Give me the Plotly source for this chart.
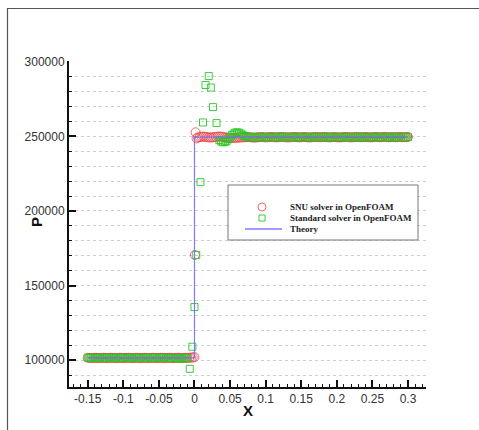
import plotly.graph_objects as go

# ---------------- data ----------------
theory_x = [-0.15, 0.0, 0.0, 0.3]
theory_p = [101500, 101500, 249500, 249500]

# SNU solver in OpenFOAM (red circles)
snu_x = [-0.1500, -0.1475, -0.1450, -0.1425, -0.1400, -0.1375, -0.1350, -0.1325, -0.1300, -0.1275,
         -0.1250, -0.1225, -0.1200, -0.1175, -0.1150, -0.1125, -0.1100, -0.1075, -0.1050, -0.1025,
         -0.1000, -0.0975, -0.0950, -0.0925, -0.0900, -0.0875, -0.0850, -0.0825, -0.0800, -0.0775,
         -0.0750, -0.0725, -0.0700, -0.0675, -0.0650, -0.0625, -0.0600, -0.0575, -0.0550, -0.0525,
         -0.0500, -0.0475, -0.0450, -0.0425, -0.0400, -0.0375, -0.0350, -0.0325, -0.0300, -0.0275,
         -0.0250, -0.0225, -0.0200, -0.0175, -0.0150, -0.0125, -0.0100, -0.0075, -0.0050, -0.0025,
         0.0000, 0.0006, 0.0016, 0.0030,
         0.0050, 0.0075, 0.0100, 0.0125, 0.0150, 0.0175, 0.0200, 0.0225, 0.0250, 0.0275,
         0.0300, 0.0325, 0.0350, 0.0375, 0.0400, 0.0425, 0.0450, 0.0475, 0.0500, 0.0525,
         0.0550, 0.0575, 0.0600, 0.0625, 0.0650, 0.0675, 0.0700, 0.0725, 0.0750, 0.0775,
         0.0800, 0.0825, 0.0850, 0.0875, 0.0900, 0.0925, 0.0950, 0.0975, 0.1000, 0.1025,
         0.1050, 0.1075, 0.1100, 0.1125, 0.1150, 0.1175, 0.1200, 0.1225, 0.1250, 0.1275,
         0.1300, 0.1325, 0.1350, 0.1375, 0.1400, 0.1425, 0.1450, 0.1475, 0.1500, 0.1525,
         0.1550, 0.1575, 0.1600, 0.1625, 0.1650, 0.1675, 0.1700, 0.1725, 0.1750, 0.1775,
         0.1800, 0.1825, 0.1850, 0.1875, 0.1900, 0.1925, 0.1950, 0.1975, 0.2000, 0.2025,
         0.2050, 0.2075, 0.2100, 0.2125, 0.2150, 0.2175, 0.2200, 0.2225, 0.2250, 0.2275,
         0.2300, 0.2325, 0.2350, 0.2375, 0.2400, 0.2425, 0.2450, 0.2475, 0.2500, 0.2525,
         0.2550, 0.2575, 0.2600, 0.2625, 0.2650, 0.2675, 0.2700, 0.2725, 0.2750, 0.2775,
         0.2800, 0.2825, 0.2850, 0.2875, 0.2900, 0.2925, 0.2950, 0.2975, 0.3000]
snu_p = [101600, 101500, 101400, 101500, 101600, 101500, 101400, 101500, 101500, 101600,
         101500, 101400, 101500, 101600, 101500, 101500, 101400, 101500, 101600, 101500,
         101400, 101500, 101500, 101600, 101500, 101400, 101500, 101600, 101500, 101500,
         101400, 101500, 101600, 101500, 101400, 101500, 101500, 101600, 101500, 101400,
         101500, 101600, 101500, 101500, 101400, 101500, 101600, 101500, 101400, 101500,
         101500, 101600, 101500, 101400, 101500, 101600, 101500, 101600, 101700, 101800,
         102000, 170500, 252700, 248600,
         249300, 249500, 249700, 249800, 249700, 249500, 249300, 249200, 249300, 249500,
         249600, 249800, 249900, 249800, 249600, 249400, 249200, 249000, 248900, 248900,
         249000, 249000, 249100, 249200, 249300, 249300, 249400, 249400, 249500, 249400,
         249300, 249200, 249200, 249300, 249400, 249500, 249500, 249400, 249300, 249400,
         249500, 249600, 249500, 249400, 249300, 249400, 249500, 249600, 249500, 249400,
         249300, 249300, 249400, 249500, 249600, 249500, 249400, 249300, 249400, 249500,
         249500, 249400, 249300, 249300, 249400, 249500, 249600, 249500, 249400, 249400,
         249500, 249600, 249500, 249400, 249300, 249400, 249500, 249500, 249400, 249300,
         249300, 249400, 249500, 249600, 249500, 249400, 249300, 249400, 249500, 249600,
         249500, 249400, 249400, 249500, 249600, 249500, 249400, 249300, 249400, 249500,
         249600, 249500, 249400, 249400, 249500, 249600, 249500, 249400, 249400, 249500,
         249500, 249400, 249500, 249600, 249500, 249400, 249500, 249500, 249600]

# Standard solver in OpenFOAM (green squares)
std_x = [-0.1500, -0.1475, -0.1450, -0.1425, -0.1400, -0.1375, -0.1350, -0.1325, -0.1300, -0.1275,
         -0.1250, -0.1225, -0.1200, -0.1175, -0.1150, -0.1125, -0.1100, -0.1075, -0.1050, -0.1025,
         -0.1000, -0.0975, -0.0950, -0.0925, -0.0900, -0.0875, -0.0850, -0.0825, -0.0800, -0.0775,
         -0.0750, -0.0725, -0.0700, -0.0675, -0.0650, -0.0625, -0.0600, -0.0575, -0.0550, -0.0525,
         -0.0500, -0.0475, -0.0450, -0.0425, -0.0400, -0.0375, -0.0350, -0.0325, -0.0300, -0.0275,
         -0.0250, -0.0225, -0.0200, -0.0175, -0.0150, -0.0125, -0.0100,
         -0.0066, -0.0030, 0.0000, 0.0025, 0.0084, 0.0120, 0.0155, 0.0200, 0.0230, 0.0260, 0.0310,
         0.0350, 0.0375, 0.0400, 0.0425, 0.0450, 0.0475, 0.0500, 0.0525, 0.0550, 0.0575,
         0.0600, 0.0625, 0.0650, 0.0675, 0.0700, 0.0725, 0.0750, 0.0775, 0.0800, 0.0825,
         0.0850, 0.0875, 0.0900, 0.0925, 0.0950, 0.0975, 0.1000, 0.1025, 0.1050, 0.1075,
         0.1100, 0.1125, 0.1150, 0.1175, 0.1200, 0.1225, 0.1250, 0.1275, 0.1300, 0.1325,
         0.1350, 0.1375, 0.1400, 0.1425, 0.1450, 0.1475, 0.1500, 0.1525, 0.1550, 0.1575,
         0.1600, 0.1625, 0.1650, 0.1675, 0.1700, 0.1725, 0.1750, 0.1775, 0.1800, 0.1825,
         0.1850, 0.1875, 0.1900, 0.1925, 0.1950, 0.1975, 0.2000, 0.2025, 0.2050, 0.2075,
         0.2100, 0.2125, 0.2150, 0.2175, 0.2200, 0.2225, 0.2250, 0.2275, 0.2300, 0.2325,
         0.2350, 0.2375, 0.2400, 0.2425, 0.2450, 0.2475, 0.2500, 0.2525, 0.2550, 0.2575,
         0.2600, 0.2625, 0.2650, 0.2675, 0.2700, 0.2725, 0.2750, 0.2775, 0.2800, 0.2825,
         0.2850, 0.2875, 0.2900, 0.2925, 0.2950, 0.2975, 0.3000]
std_p = [101700, 101500, 101500, 101500, 101500, 101500, 101500, 101500, 101500, 101500,
         101500, 101500, 101500, 101500, 101500, 101500, 101500, 101500, 101500, 101500,
         101500, 101500, 101500, 101500, 101500, 101500, 101500, 101500, 101500, 101500,
         101500, 101500, 101500, 101500, 101500, 101500, 101500, 101500, 101500, 101500,
         101500, 101500, 101500, 101500, 101500, 101500, 101500, 101400, 101400, 101300,
         101300, 101200, 101200, 101300, 101400, 101500, 101500,
         94200, 109000, 135600, 170500, 219300, 259300, 284400, 290400, 282700, 269600, 258900,
         247500, 246500, 246000, 246200, 246800, 248000, 249500, 250800, 251800, 252500,
         252700, 252400, 251800, 251000, 250300, 249800, 249600, 249500, 249500, 249400,
         249500, 249500, 249500, 249400, 249500, 249600, 249500, 249400, 249500, 249600,
         249500, 249400, 249500, 249600, 249700, 249600, 249500, 249400, 249500, 249600,
         249500, 249400, 249500, 249600, 249500, 249400, 249500, 249600, 249500, 249500,
         249600, 249500, 249400, 249500, 249600, 249500, 249400, 249500, 249600, 249500,
         249400, 249500, 249600, 249500, 249400, 249500, 249600, 249500, 249500, 249600,
         249500, 249400, 249500, 249600, 249500, 249400, 249500, 249600, 249500, 249400,
         249500, 249600, 249500, 249400, 249500, 249600, 249500, 249400, 249500, 249600,
         249500, 249400, 249500, 249600, 249500, 249400, 249500, 249500, 249600, 249500,
         249400, 249500, 249600, 249500, 249500, 249600, 249500]

legend_names = ["SNU solver in OpenFOAM", "Standard solver in OpenFOAM", "Theory"]
y_ticks = [100000, 150000, 200000, 250000, 300000]
x_ticks = [-0.15, -0.1, -0.05, 0, 0.05, 0.1, 0.15, 0.2, 0.25, 0.3]
x_tick_labels = ["-0.15", "-0.1", "-0.05", "0", "0.05", "0.1", "0.15", "0.2", "0.25", "0.3"]

RED = "rgba(240,70,70,0.8)"
GREEN = "rgba(40,200,40,0.9)"
BLUE = "rgba(110,110,255,0.9)"

fig = go.Figure()
fig.add_trace(go.Scatter(x=snu_x, y=snu_p, mode="markers", name=legend_names[0],
                         marker=dict(symbol="circle-open", size=9, color=RED, line=dict(width=1))))
fig.add_trace(go.Scatter(x=std_x, y=std_p, mode="markers", name=legend_names[1],
                         marker=dict(symbol="square-open", size=7, color=GREEN, line=dict(width=1))))
fig.add_trace(go.Scatter(x=theory_x, y=theory_p, mode="lines", name=legend_names[2],
                         line=dict(color=BLUE, width=1.2)))

W, H = 479, 430
ml, mr, mt, mb = 69, 53, 61, 43
pw, ph = W - ml - mr, H - mt - mb


def px(xp):
    return (xp - ml) / pw


def py(yp):
    return (H - mb - yp) / ph


shapes = [
    # outer frame (top and left)
    dict(type="line", xref="paper", yref="paper", x0=px(7), x1=px(479), y0=py(8.5), y1=py(8.5),
         line=dict(color="#555", width=1.2)),
    dict(type="line", xref="paper", yref="paper", x0=px(7.5), x1=px(7.5), y0=py(8), y1=py(430),
         line=dict(color="#555", width=1.2)),
    # legend box
    dict(type="rect", xref="paper", yref="paper", x0=px(228), x1=px(418), y0=py(185), y1=py(240),
         line=dict(color="#777", width=1), fillcolor="white", layer="above"),
    # legend symbols
    dict(type="circle", xref="paper", yref="paper", xsizemode="pixel", ysizemode="pixel",
         xanchor=px(262), yanchor=py(207), x0=-4, x1=4, y0=-4, y1=4,
         line=dict(color=RED, width=1), layer="above"),
    dict(type="rect", xref="paper", yref="paper", xsizemode="pixel", ysizemode="pixel",
         xanchor=px(262), yanchor=py(218), x0=-3, x1=3, y0=-3, y1=3,
         line=dict(color=GREEN, width=1), layer="above"),
    dict(type="line", xref="paper", yref="paper", x0=px(245), x1=px(282), y0=py(229), y1=py(229),
         line=dict(color=BLUE, width=1.5), layer="above"),
]

annotations = []
for name, yy in zip(legend_names, [207, 218, 229]):
    annotations.append(dict(xref="paper", yref="paper", x=px(288), y=py(yy), text="<b>" + name + "</b>",
                            showarrow=False, xanchor="left", yanchor="middle",
                            font=dict(family="Liberation Serif", size=9, color="#222")))
# axis titles
annotations.append(dict(xref="paper", yref="paper", x=px(248), y=py(410), text="<b>X</b>",
                        showarrow=False, xanchor="center", yanchor="middle",
                        font=dict(family="Liberation Sans", size=15, color="#111")))
annotations.append(dict(xref="paper", yref="paper", x=px(36), y=py(222), text="<b>P</b>",
                        showarrow=False, xanchor="center", yanchor="middle", textangle=-90,
                        font=dict(family="Liberation Sans", size=15, color="#111")))

fig.update_layout(
    width=W, height=H,
    margin=dict(l=ml, r=mr, t=mt, b=mb),
    paper_bgcolor="white", plot_bgcolor="white",
    showlegend=False,
    shapes=shapes, annotations=annotations,
    font=dict(family="Liberation Sans, Arial", size=12, color="#333"),
)
fig.update_xaxes(
    range=[-0.1763, 0.3253], tickvals=x_ticks, ticktext=x_tick_labels,
    showline=True, linecolor="#111", linewidth=2, mirror=False,
    ticks="inside", ticklen=7, tickwidth=2, tickcolor="#111",
    minor=dict(dtick=0.01, tick0=0, ticks="inside", ticklen=3, tickwidth=1, tickcolor="#111", showgrid=False),
    showgrid=False, zeroline=False,
)
fig.update_yaxes(
    range=[82000, 300500], tickvals=y_ticks, ticktext=[str(v) for v in y_ticks],
    showline=True, linecolor="#111", linewidth=2, mirror=False,
    ticks="inside", ticklen=7, tickwidth=2, tickcolor="#111",
    showgrid=True, gridcolor="#cfcfcf", griddash="3px,3px", gridwidth=1,
    minor=dict(dtick=10000, tick0=0, ticks="inside", ticklen=3, tickwidth=1, tickcolor="#111",
               showgrid=True, gridcolor="#cfcfcf", griddash="3px,3px", gridwidth=1),
    zeroline=False,
)

fig.write_html("out.html")
